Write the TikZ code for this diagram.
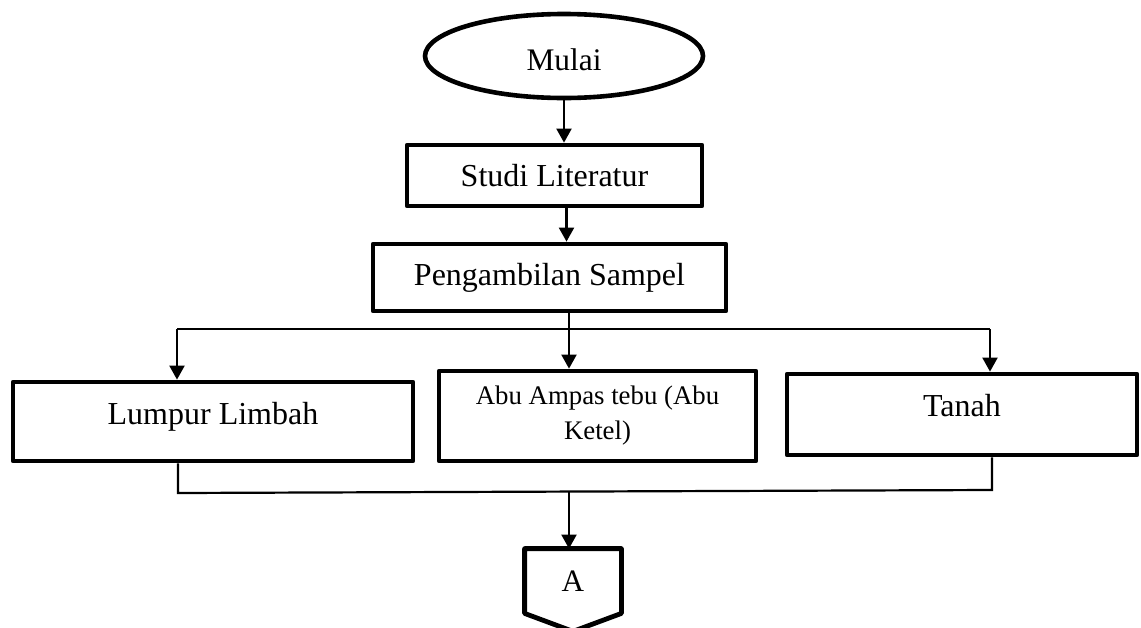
\documentclass[tikz,border=0pt]{standalone}
\usepackage{fontspec}
\setmainfont{Liberation Serif}
\usepackage{tikz}
\usetikzlibrary{arrows.meta,shapes.geometric,positioning,calc}

\begin{document}
\begin{tikzpicture}[x=0.5pt,y=-0.5pt]
%styles des blocs et des fleches
\tikzset{bloc/.style={draw,rectangle,line width=2.4pt,line join=round,inner sep=0pt,font=\fontsize{16}{19}\selectfont}}
\tikzset{fleche/.style={line width=1.1pt,-{Triangle[width=7.5pt,length=7pt]}}, trait/.style={line width=1.1pt}}
\useasboundingbox (0,0) rectangle (1141,627);
\node[draw,ellipse,line width=2.3pt,inner sep=0pt,minimum width=139pt,minimum height=42pt,font=\fontsize{15.7}{19}\selectfont,text height=14.6pt,text depth=0pt] (mulai) at (564,56) {Mulai};
\node[bloc,minimum width=147.5pt,minimum height=30.5pt] (studi) at (554.5,175.5) {Studi Literatur};
\node[bloc,minimum width=176.5pt,minimum height=33.5pt] (sampel) at (549.5,277.5) {Pengambilan Sampel};
\node[bloc,minimum width=200pt,minimum height=39.5pt,text height=3pt,text depth=0.4pt] (lumpur) at (213,421.5) {Lumpur Limbah};
\node[bloc,minimum width=158.5pt,minimum height=45pt,align=center,font=\fontsize{13.4}{17.5}\selectfont] (abu) at (597.5,416) {Abu Ampas tebu (Abu\\Ketel)};
\node[bloc,minimum width=175pt,minimum height=40.5pt,text height=2pt,text depth=0.4pt] (tanah) at (962,414.5) {Tanah};
\node[inner sep=0pt,minimum width=48pt,minimum height=32pt,font=\fontsize{15.6}{19}\selectfont] (conA) at (573,581) {A};
\draw[line width=2.4pt,line join=round] (conA.north west) -- (conA.north east) -- (conA.south east) -- ($(conA.south)+(0,18)$) -- (conA.south west) -- cycle; %connecteur hors page
%liaisons
\draw[fleche] (mulai.south) -- (mulai.south |- studi.north);
\draw[fleche] ([xshift=6pt]studi.south) -- ([xshift=6pt]studi.south |- sampel.north);
\coordinate (pisah-l) at (177,329);
\coordinate (pisah) at (569,329);
\coordinate (pisah-r) at (990,329);
\draw[trait] (sampel.south -| pisah) -- (pisah);
\draw[trait] (pisah-l) -- (pisah-r);
\draw[fleche] (pisah-l) -- (pisah-l |- lumpur.north);
\draw[fleche] (pisah) -- (pisah |- abu.north);
\draw[fleche] (pisah-r) -- (pisah-r |- tanah.north);
\coordinate (gabung-l) at (178,493);
\coordinate (gabung-r) at (992,490);
\coordinate (gabung) at (569,491.5);
\draw[trait] (lumpur.south -| gabung-l) -- (gabung-l) -- (gabung-r) -- (tanah.south -| gabung-r);
\draw[fleche] (gabung) -- (gabung |- conA.north);
\end{tikzpicture}
\end{document}
